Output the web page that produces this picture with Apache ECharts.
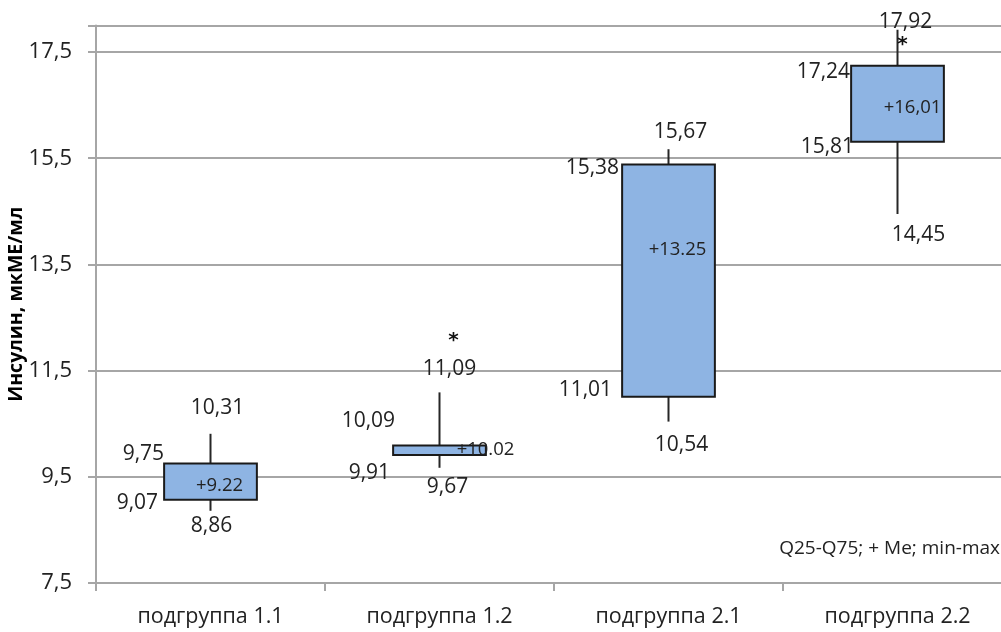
<!DOCTYPE html>
<html><head><meta charset="utf-8">
<script src="https://cdn.jsdelivr.net/npm/echarts@6/dist/echarts.min.js"></script>
<style>html,body{margin:0;padding:0;background:#fff}#c{width:1001px;height:632px}</style>
</head><body><div id="c"></div>
<script>
// ---- data ----
const categories = ['подгруппа 1.1', 'подгруппа 1.2', 'подгруппа 2.1', 'подгруппа 2.2'];
const minVals = [8.86, 9.67, 10.54, 14.45];
const q25Vals = [9.07, 9.91, 11.01, 15.81];
const medVals = [9.22, 10.02, 13.25, 16.01];
const q75Vals = [9.75, 10.09, 15.38, 17.24];
const maxVals = [10.31, 11.09, 15.67, 17.92];
const starVals = [null, 12.13, null, 17.71];
const yTicks = [7.5, 9.5, 11.5, 13.5, 15.5, 17.5];
const medSep = ['.', '.', '.', ','];
const yName = 'Инсулин, мкМЕ/мл';
const noteText = 'Q25-Q75; + Me; min-max';

// ---- label placement (pixels, style only) ----
const LBL = {
  max: [[7, -26], [10, -23], [12, -17], [8, -8]],
  min: [[1, 15], [8, 19], [13, 23], [21, 21]],
  q75: [[0, -10], [2, -24], [-3, 3], [-1, 6]],
  q25: [[-6, 3], [-3, 18], [-10, -7], [3, 5]],
  med: [[9, -6], [46, 1], [9, -28], [15, -23]],
  star: [[0, 0], [14, 0], [0, 0], [5, 0]]
};
const FONT = "'Open Sans', 'Noto Sans', sans-serif";
const TXT = '#222222';
const fmt = (v, sep) => v.toFixed(2).replace('.', sep);

const boxData = categories.map((c, i) => [i, minVals[i], q25Vals[i], medVals[i], q75Vals[i], maxVals[i], starVals[i] == null ? NaN : starVals[i]]);

function renderBox(params, api) {
  const i = params.dataIndex;
  const c = api.value(0);
  const pMin = api.coord([c, api.value(1)]);
  const pQ25 = api.coord([c, api.value(2)]);
  const pMed = api.coord([c, api.value(3)]);
  const pQ75 = api.coord([c, api.value(4)]);
  const pMax = api.coord([c, api.value(5)]);
  const x = pMed[0];
  const bw = api.size([1, 0])[0] * 0.405;
  const lineStyle = { stroke: '#262626', lineWidth: 2 };
  const txt = (text, px, py, align, size) => ({
    type: 'text', x: px, y: py,
    style: { text, fontSize: size || 21, fontFamily: FONT, fill: TXT, align: align || 'center', verticalAlign: 'middle' }
  });
  const ch = [
    { type: 'line', shape: { x1: x, y1: pQ75[1], x2: x, y2: pMax[1] }, style: lineStyle },
    { type: 'line', shape: { x1: x, y1: pQ25[1], x2: x, y2: pMin[1] }, style: lineStyle },
    { type: 'rect', shape: { x: x - bw / 2, y: pQ75[1], width: bw, height: pQ25[1] - pQ75[1] },
      style: { fill: '#8EB4E3', stroke: '#1a1a1a', lineWidth: 2 } },
    txt(fmt(api.value(5), ','), x + LBL.max[i][0], pMax[1] + LBL.max[i][1]),
    txt(fmt(api.value(1), ','), x + LBL.min[i][0], pMin[1] + LBL.min[i][1]),
    txt(fmt(api.value(4), ','), x - bw / 2 + LBL.q75[i][0], pQ75[1] + LBL.q75[i][1], 'right'),
    txt(fmt(api.value(2), ','), x - bw / 2 + LBL.q25[i][0], pQ25[1] + LBL.q25[i][1], 'right'),
    txt('+' + fmt(api.value(3), medSep[i]), x + LBL.med[i][0], pMed[1] + LBL.med[i][1], 'center', 18.5)
  ];
  const sv = api.value(6);
  if (!isNaN(sv)) {
    const ps = api.coord([c, sv]);
    ch.push({ type: 'text', x: x + LBL.star[i][0], y: ps[1] + 4,
      style: { text: '*', fontSize: 20, fontWeight: 'bold', fontFamily: "'DejaVu Sans', sans-serif", fill: '#111', align: 'center', verticalAlign: 'middle' } });
  }
  return { type: 'group', children: ch };
}

const chart = echarts.init(document.getElementById('c'), null, { renderer: 'canvas' });
const gridCol = '#a6a6a6';
chart.setOption({
  animation: false,
  backgroundColor: '#ffffff',
  grid: { left: 96, right: -11, top: 25.5, bottom: 49, containLabel: false, outerBoundsMode: 'none' },
  xAxis: {
    type: 'category', data: categories, boundaryGap: true,
    axisLine: { show: true, lineStyle: { color: gridCol, width: 2 } },
    axisTick: { show: true, length: 8, lineStyle: { color: gridCol, width: 2 } },
    axisLabel: { margin: 23, fontSize: 21.5, fontFamily: FONT, color: TXT },
    splitLine: { show: false }
  },
  yAxis: {
    type: 'value', min: 7.5, max: 18, interval: 2,
    name: yName, nameLocation: 'middle', nameGap: 70, nameRotate: 90, nameMoveOverlap: false,
    nameTextStyle: { fontSize: 19.5, fontWeight: 'bold', fontFamily: FONT, color: '#000' },
    axisLine: { show: true, lineStyle: { color: gridCol, width: 2 } },
    axisTick: { show: true, length: 8, lineStyle: { color: gridCol, width: 2 } },
    axisLabel: { margin: 24, fontSize: 22, fontFamily: FONT, color: TXT,
      formatter: v => yTicks.some(t => Math.abs(t - v) < 1e-6) ? v.toFixed(1).replace('.', ',') : '' },
    splitLine: { show: true, lineStyle: { color: gridCol, width: 2 } }
  },
  graphic: [{
    type: 'text', right: 1, top: 539,
    style: { text: noteText, fontSize: 19, fontFamily: FONT, fill: TXT }
  }],
  series: [{
    type: 'custom', data: boxData, renderItem: renderBox, clip: false,
    encode: { x: 0, y: [1, 5] }
  }]
});
</script></body></html>
